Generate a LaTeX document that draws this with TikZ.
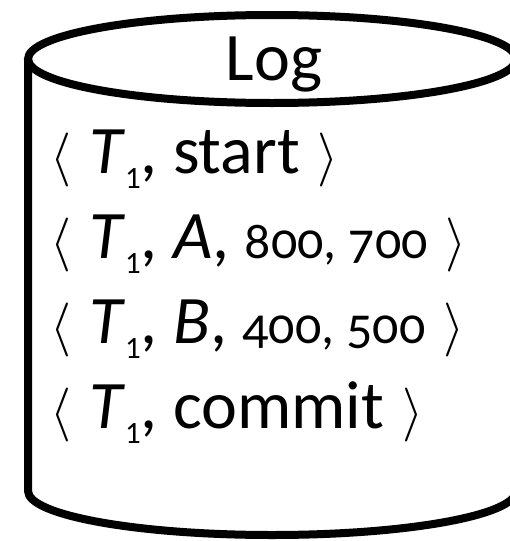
\documentclass[tikz,border=0pt]{standalone}
\usepackage{fontspec}
\usepackage{graphicx}
\setmainfont{Carlito}
\newfontfamily\numfont[Numbers=OldStyle]{Carlito}
\newfontfamily\subfont[Numbers=Lining]{Carlito}
\newcommand\lbr{\resizebox*{!}{54pt}{$\langle$}}
\newcommand\rbr{\resizebox*{!}{54pt}{$\rangle$}}
\newcommand\tsubone{\lower15pt\hbox{\fontsize{31}{31}\selectfont\subfont 1}}
\newcommand\nums[1]{{\numfont\fontsize{52}{52}\selectfont #1}}
\begin{document}
\begin{tikzpicture}[x=1pt,y=-1pt]
\tikzset{
  cyl/.style={line width=8pt, black},
  logline/.style={anchor=base west, inner sep=0pt, font=\fontsize{68}{68}\selectfont},
}
\useasboundingbox (0,0) rectangle (509,541);
\draw[cyl] (272,59) ellipse [x radius=244, y radius=44];
\draw[cyl] (28,59) -- (28,491) arc[start angle=180, end angle=0, x radius=244, y radius=44] -- (516,59);
\node[anchor=base, inner sep=0pt, font=\fontsize{68}{68}\selectfont] (title) at (274,80) {Log};
\node[logline] (l1) at (50,173) {\lbr\hspace{18pt}\textit{T}\tsubone, start\hspace{18pt}\rbr};
\node[logline] (l2) at (50,258) {\lbr\hspace{18pt}\textit{T}\tsubone, \textit{A}, \nums{800, 700}\hspace{18pt}\rbr};
\node[logline] (l3) at (50,343) {\lbr\hspace{18pt}\textit{T}\tsubone, \textit{B}, \nums{400, 500}\hspace{18pt}\rbr};
\node[logline] (l4) at (50,428) {\lbr\hspace{18pt}\textit{T}\tsubone, commit\hspace{18pt}\rbr};
\end{tikzpicture}
\end{document}
